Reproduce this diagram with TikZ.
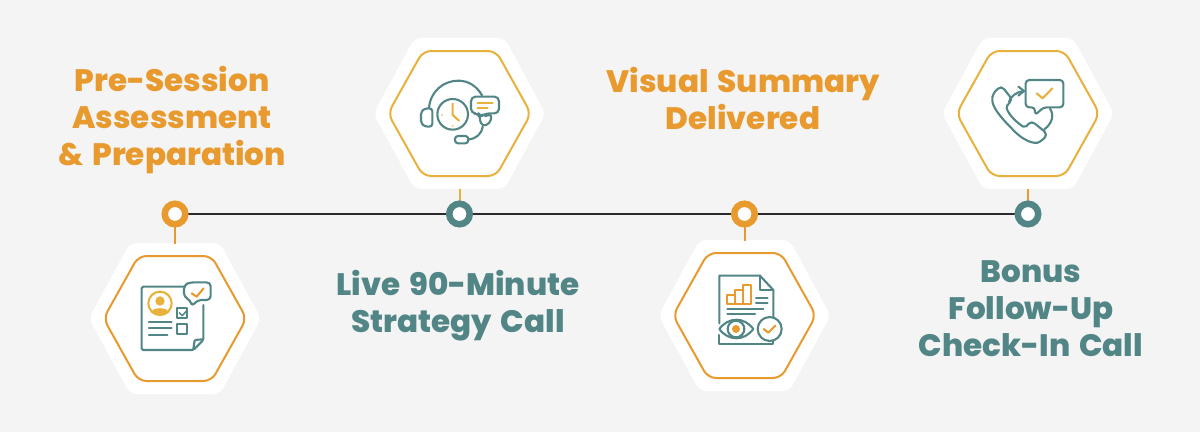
\documentclass[tikz,border=0pt]{standalone}
\usepackage{fontspec}
\setmainfont{Poppins}[BoldFont={Poppins ExtraBold},BoldFeatures={WordSpace=1.5}]
\definecolor{bgc}{HTML}{F4F4F4}
\definecolor{org}{HTML}{E89A2E}
\definecolor{gld}{HTML}{E8B13C}
\definecolor{tl}{HTML}{528686}
\definecolor{dk}{HTML}{2B2B2B}
\tikzset{
  hexarea/.style={minimum width=170pt,minimum height=150pt,inner sep=0pt,outer sep=0pt},
  dot/.style={circle,draw=#1,fill=white,line width=6.5pt,minimum size=20.5pt,inner sep=0pt},
  stub/.style={draw=#1,line width=2pt},
  title/.style={text=#1,font=\fontsize{31pt}{36.8pt}\selectfont\bfseries,align=center,inner sep=0pt},
  ic/.style={draw=tl,line width=2.1pt,line join=round,line cap=round},
  ig/.style={draw=gld,line width=2.1pt,line join=round,line cap=round},
  io/.style={draw=org,line width=2.1pt,line join=round,line cap=round},
  zoomed/.style={x=0.33333pt,y=-0.33333pt}
}
\newcommand{\hexfig}[2]{%
  \fill[white,rounded corners=7pt] ($(#1)+(-86,0)$) -- ($(#1)+(-45,-75.5)$) -- ($(#1)+(45,-75.5)$) -- ($(#1)+(86,0)$) -- ($(#1)+(45,75.5)$) -- ($(#1)+(-45,75.5)$) -- cycle;
  \draw[#2,line width=2pt,rounded corners=8pt] ($(#1)+(-71.5,0)$) -- ($(#1)+(-36.5,-62.5)$) -- ($(#1)+(36.5,-62.5)$) -- ($(#1)+(71.5,0)$) -- ($(#1)+(36.5,62.5)$) -- ($(#1)+(-36.5,62.5)$) -- cycle;
}
\usetikzlibrary{calc}
\begin{document}
\begin{tikzpicture}[x=1pt,y=-1pt]
\fill[bgc] (0,0) rectangle (1200,432);
\useasboundingbox (0,0) rectangle (1200,432);
% anchors
\node[hexarea] (h1) at (175,318.5) {};
\node[hexarea] (h2) at (459.5,113.5) {};
\node[hexarea] (h3) at (744.5,315.5) {};
\node[hexarea] (h4) at (1028,113.5) {};
\hexfig{h1}{org}
\hexfig{h2}{gld}
\hexfig{h3}{org}
\hexfig{h4}{gld}
\coordinate (p1) at (175,214);
\coordinate (p2) at (459.5,214);
\coordinate (p3) at (744.5,214);
\coordinate (p4) at (1028,214);
\draw[stub=org] (p1) -- (h1.north);
\draw[stub=gld] (p2) -- (h2.south);
\draw[stub=org] (p3) -- (h3.north);
\draw[stub=org] (p4) -- (h4.south);
\draw[dk,line width=2.4pt] (p1) -- (p2) -- (p3) -- (p4);
\node[dot=org] (c1) at (p1) {};
\node[dot=tl] (c2) at (p2) {};
\node[dot=org] (c3) at (p3) {};
\node[dot=tl] (c4) at (p4) {};
% texts
\node[title=org] (t1) at (172,120) {Pre-Session\\Assessment\\\& Preparation};
\node[title=tl] (t2) at (458,305.5) {Live 90-Minute\\Strategy Call};
\node[title=org] (t3) at (743,98.5) {Visual Summary\\Delivered};
\node[title=tl] (t4) at (1031,308.5) {Bonus\\Follow-Up\\Check-In Call};
% icon 1
\begin{scope}[shift={(80,190)},zoomed]
\draw[ic,rounded corners=1.5pt] (318,290) -- (185,290) -- (185,480) -- (340,480) -- (370,450) -- (370,345);
\draw[ic,rounded corners=1pt] (340,478) -- (344,450) -- (368,448);
\draw[ic,fill=white,rounded corners=4pt] (330,277) -- (392,277) -- (392,330) -- (352,330) -- (335,350) -- (332,330) -- (312,322) -- (312,285) -- cycle;
\draw[io] (335,310) -- (350,320) -- (371,295);
\draw[ig] (240,340) circle (35);
\fill[gld] (240,333) circle (14);
\fill[gld] (214,368) .. controls (216,350) and (264,350) .. (266,368) .. controls (252,378) and (228,378) .. (214,368) -- cycle;
\draw[ic] (291,355) rectangle (322,385);
\draw[ic,line width=1.5pt] (298,368) -- (307,377) -- (322,360);
\draw[ic] (291,401) rectangle (322,431);
\draw[ic] (207,395) -- (275,395);
\draw[ic] (207,415) -- (275,415);
\draw[ic] (207,435) -- (262,435);
\end{scope}
% icon 2
\begin{scope}[shift={(370,30)},zoomed]
\draw[ic] (177,235) .. controls (180,185) and (220,152) .. (265,152) .. controls (295,152) and (320,168) .. (336,196);
\draw[ic,rounded corners=3pt] (187,235) -- (165,235) -- (153,245) -- (153,280) -- (165,290) -- (187,290) -- cycle;
\draw[ic] (248,253) circle (46);
\draw[ig] (248,221) -- (248,255) -- (267,272);
\fill[gld] (216,255) circle (2.5) (248,288) circle (2.5);
\draw[ic,rounded corners=2pt] (345,258) -- (364,254) -- (362,275) -- (345,288) -- (333,283) -- (329,263);
\draw[ic,fill=white,rounded corners=4.5pt] (303,200) -- (387,200) -- (387,250) -- (345,250) -- (330,262) -- (325,250) -- (303,250) -- cycle;
\draw[ig] (323,218) -- (368,218);
\draw[ig] (323,233) -- (352,233);
\draw[ic] (338,290) .. controls (335,312) and (318,327) .. (295,328);
\draw[ic,rounded corners=3pt] (255,318) rectangle (295,340);
\end{scope}
% icon 3
\begin{scope}[shift={(660,195)},zoomed]
\draw[ic] (178,385) -- (178,242) -- (300,242) -- (340,285) -- (340,366);
\draw[ic] (178,420) -- (178,447) -- (340,447) -- (340,438);
\draw[ic] (300,242) -- (300,285) -- (340,285);
\draw[io] (202,326) -- (272,326) -- (272,270) -- (248,270) -- (248,285) -- (225,285) -- (225,300) -- (202,300) -- cycle;
\draw[io] (225,300) -- (225,326) (248,285) -- (248,326);
\draw[ic] (288,310) -- (323,310);
\draw[ic] (288,325) -- (323,325);
\draw[ic] (202,343) -- (310,343);
\draw[ic] (202,358) -- (285,358);
\draw[ic,fill=white] (178,402) .. controls (205,365) and (253,365) .. (280,402) .. controls (253,439) and (205,439) .. (178,402) -- cycle;
\draw[ic] (228,402) circle (25);
\fill[org] (228,402) circle (12);
\draw[ic,fill=white] (329,402) circle (36);
\draw[io] (311,402) -- (325,413) -- (346,392);
\end{scope}
% icon 4
\begin{scope}[shift={(935,30)},zoomed]
\draw[ic,rounded corners=2pt] (172,205) -- (175,190) -- (193,172) -- (203,172) -- (229,205) -- (227,215) -- (213,230) .. controls (222,255) and (245,278) .. (270,293) -- (285,277) -- (295,277) -- (333,308) -- (333,320) -- (318,333) .. controls (298,345) and (262,330) .. (230,295) .. controls (195,260) and (172,230) .. (172,205) -- cycle;
\draw[ic] (222,215) .. controls (228,198) and (245,186) .. (265,183);
\draw[ic] (250,170) -- (267,183) -- (250,197);
\draw[ic] (345,236) .. controls (358,255) and (352,280) .. (328,298);
\draw[ic,fill=white,rounded corners=3.5pt] (272,150) -- (385,150) -- (385,232) -- (325,232) -- (300,256) -- (300,232) -- (272,232) -- cycle;
\draw[ig] (305,190) -- (323,205) -- (352,175);
\end{scope}
\end{tikzpicture}
\end{document}
